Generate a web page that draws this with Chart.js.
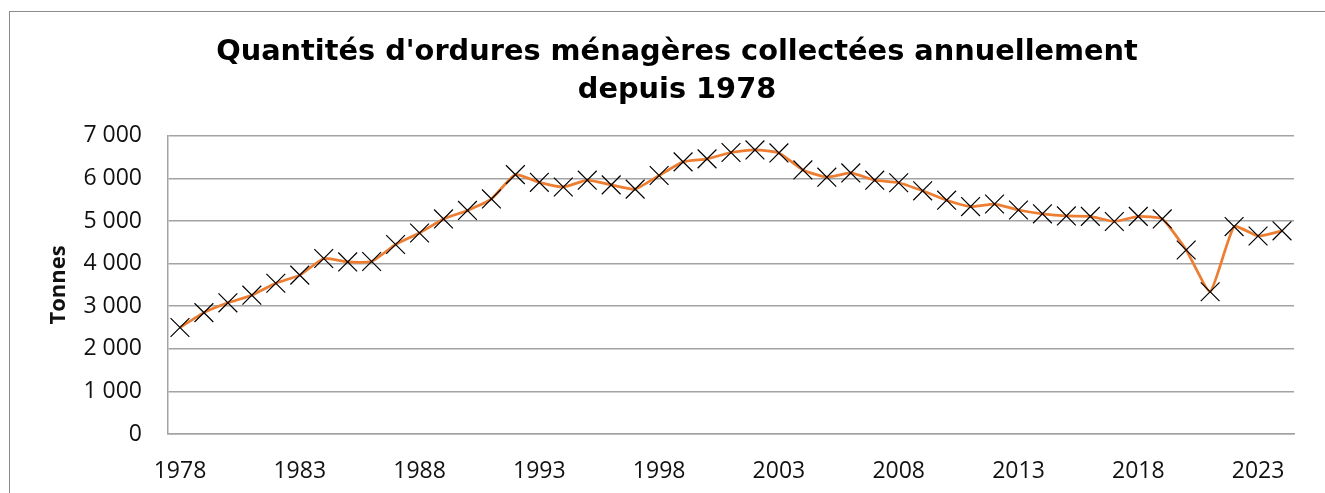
<!DOCTYPE html>
<html>
<head>
<meta charset="utf-8">
<script src="https://cdn.jsdelivr.net/npm/chart.js@4/dist/chart.umd.min.js"></script>
<style>
  html, body { margin: 0; padding: 0; background: #fff; overflow: hidden; }
  #frame {
    position: absolute; left: 9px; top: 11px;
    width: 1334px; height: 500px;
    border: 1px solid #8c8c8c;
  }
</style>
</head>
<body>
<div id="frame"><canvas id="dechetsChart"></canvas></div>
<script>
// ======= Données =======
const annees = [
  '1978', '1979', '1980', '1981', '1982', '1983', '1984', '1985', '1986', '1987',
  '1988', '1989', '1990', '1991', '1992', '1993', '1994', '1995', '1996', '1997',
  '1998', '1999', '2000', '2001', '2002', '2003', '2004', '2005', '2006', '2007',
  '2008', '2009', '2010', '2011', '2012', '2013', '2014', '2015', '2016', '2017',
  '2018', '2019', '2020', '2021', '2022', '2023', '2024'
];
const tonnes = [
  2500, 2850, 3080, 3260, 3540, 3730, 4120, 4040, 4050, 4450,
  4720, 5050, 5250, 5520, 6090, 5910, 5800, 5960, 5850, 5750,
  6070, 6390, 6460, 6610, 6670, 6600, 6200, 6030, 6130, 5960,
  5900, 5710, 5490, 5340, 5400, 5260, 5170, 5120, 5110, 4990,
  5110, 5050, 4320, 3340, 4870, 4650, 4770
];
const titre = ["Quantités d'ordures ménagères collectées annuellement", 'depuis 1978'];
const titreAxeY = 'Tonnes';

const gris = '#a3a3a3';

document.addEventListener('DOMContentLoaded', () => {
  const ctx = document.getElementById('dechetsChart');
  new Chart(ctx.getContext('2d'), {
    type: 'line',
    data: {
      labels: annees,
      datasets: [{
        label: 'Tonnes',
        data: tonnes,
        borderColor: '#ED7D31',
        borderWidth: 2.75,
        tension: 0.15,
        fill: false,
        pointStyle: 'crossRot',
        pointRadius: 13.3,
        pointHoverRadius: 13.3,
        pointBorderColor: '#000',
        pointBorderWidth: 1.2,
        pointBackgroundColor: '#000'
      }]
    },
    options: {
      responsive: true,
      maintainAspectRatio: false,
      animation: false,
      layout: { padding: 0 },
      plugins: {
        legend: { display: false },
        tooltip: { enabled: false },
        title: {
          display: true,
          text: titre,
          color: '#000',
          font: { family: 'DejaVu Sans', size: 28.8, weight: 'bold', lineHeight: 1.3 },
          padding: { top: 22, bottom: 27 }
        }
      },
      scales: {
        x: {
          type: 'category',
          offset: true,
          grid: { display: false, drawTicks: false },
          border: { display: true, color: gris, width: 1.5 },
          afterFit: (scale) => { scale.height = 78; },
          ticks: {
            autoSkip: false,
            maxRotation: 0,
            padding: 24,
            color: '#111',
            font: { family: 'Open Sans', size: 23 },
            callback: (val, i) => (i % 5 === 0 ? annees[i] : '')
          }
        },
        y: {
          min: 0,
          max: 7000,
          afterFit: (scale) => { scale.width = 158; },
          grid: { color: gris, lineWidth: 1.5, drawTicks: false },
          border: { display: true, color: gris, width: 1.5 },
          ticks: {
            stepSize: 1000,
            padding: 26,
            color: '#111',
            font: { family: 'Open Sans', size: 23 },
            callback: (v) => String(v).replace(/\B(?=(\d{3})+(?!\d))/g, ' ')
          },
          title: {
            display: true,
            text: titreAxeY,
            color: '#111',
            font: { family: 'Open Sans', size: 22, weight: 'bold' },
            padding: { top: 36, bottom: 0 }
          }
        },
        // marge droite vide, garde le titre centré sur tout le cadre
        droite: {
          type: 'linear',
          position: 'right',
          afterFit: (scale) => { scale.width = 50; },
          grid: { display: false, drawTicks: false },
          border: { display: false },
          ticks: { display: false }
        }
      }
    }
  });
});
</script>
</body>
</html>
